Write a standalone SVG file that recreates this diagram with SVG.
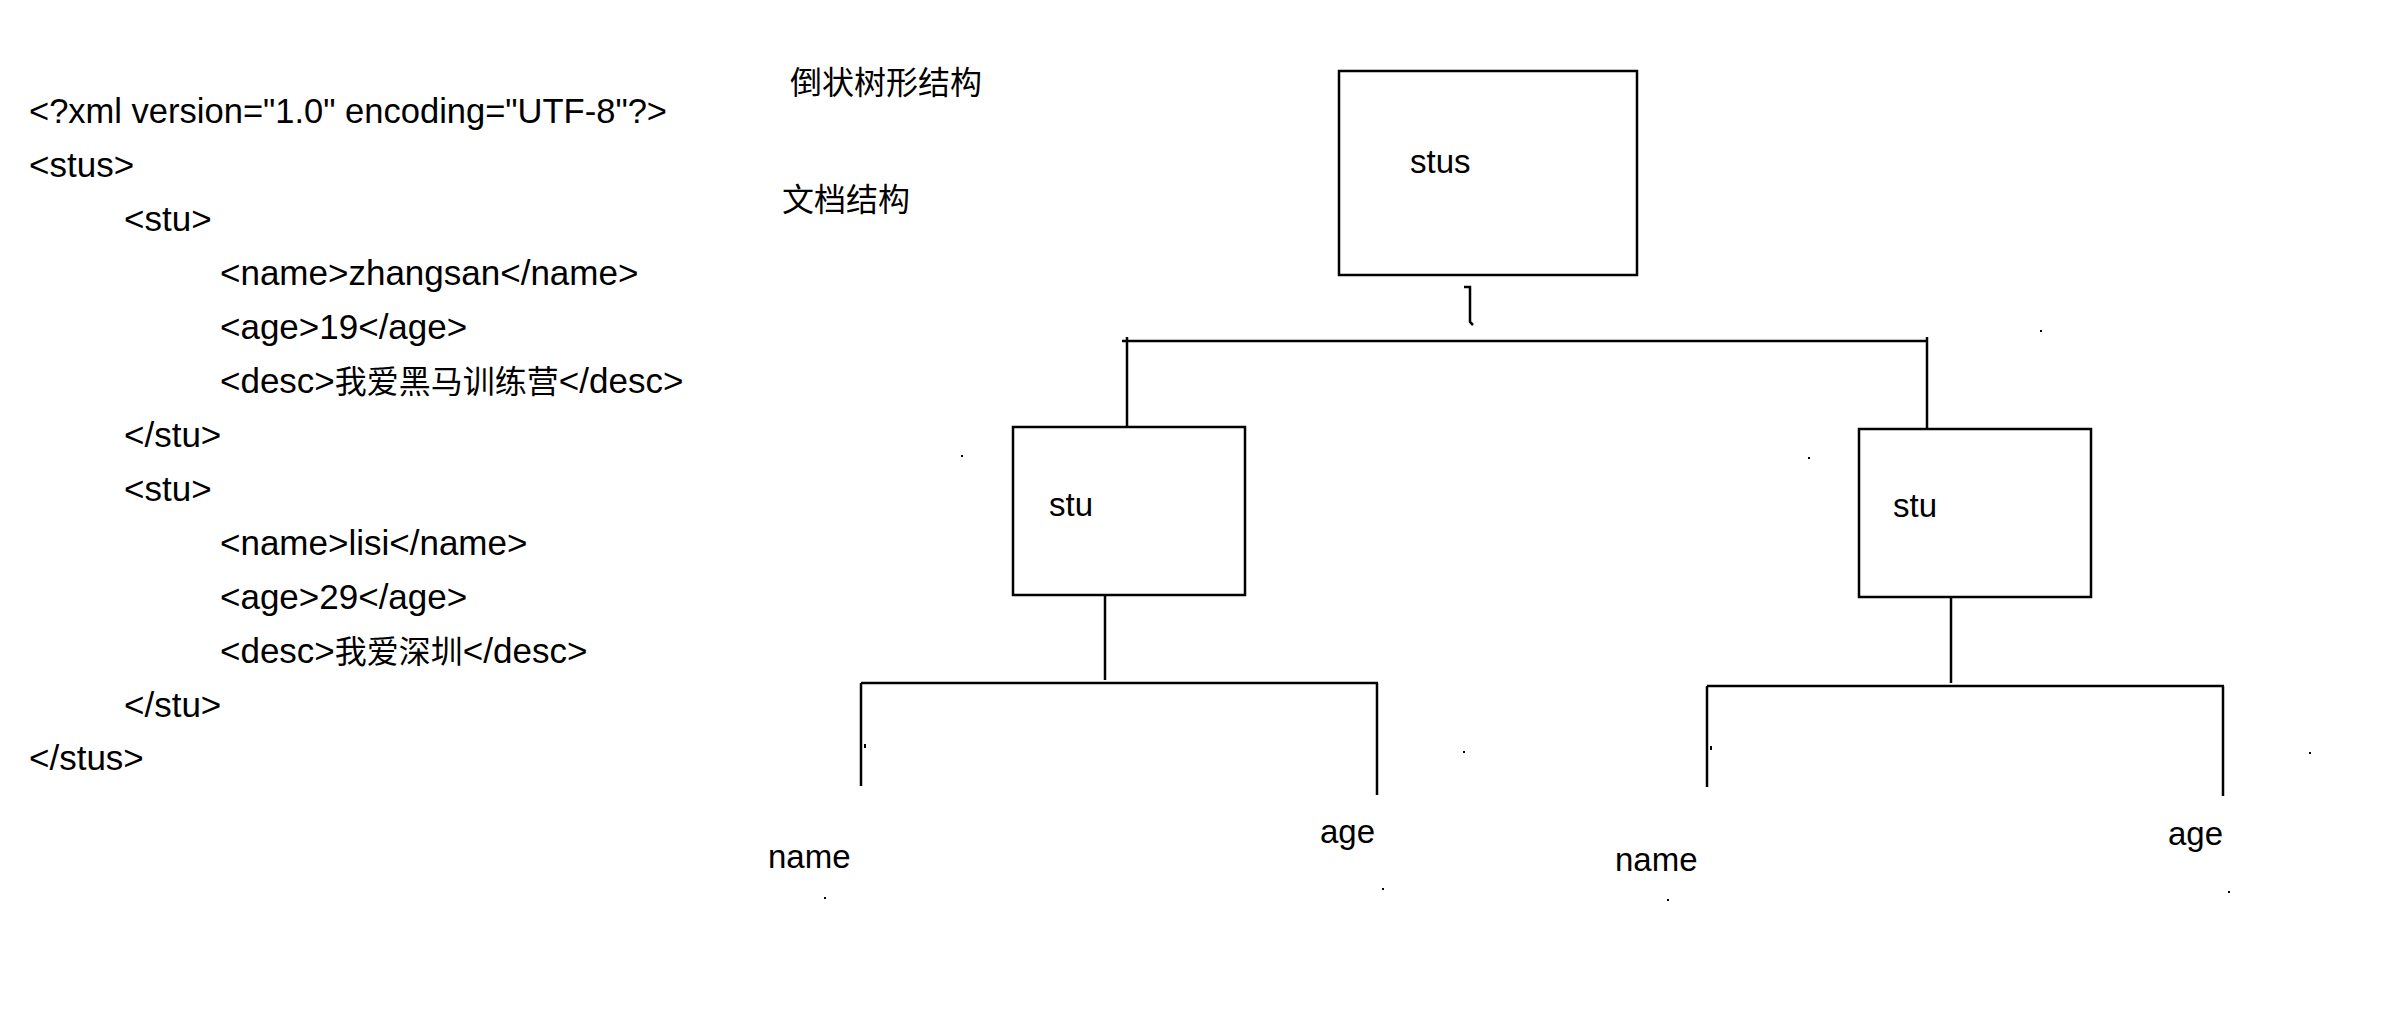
<svg xmlns="http://www.w3.org/2000/svg" width="2396" height="1014" viewBox="0 0 2396 1014">
<style>
  .code { font-family: "Liberation Sans", "Noto Sans CJK SC", sans-serif; font-size: 35px; fill: #000; }
  .zh { font-family: "Noto Sans CJK SC", sans-serif; font-size: 32px; }
  .lbl { font-family: "Liberation Sans", "Noto Sans CJK SC", sans-serif; font-size: 33px; fill: #000; }
  .cjk { font-family: "Noto Sans CJK SC", sans-serif; font-size: 32px; fill: #000; }
  .box { fill: #fff; stroke: #000; stroke-width: 2.5; }
  .ln { stroke: #000; stroke-width: 2.5; fill: none; }
  .dot { fill: #000; }
</style>
<rect width="2396" height="1014" fill="#fff"/>

<g id="code">
  <text class="code" x="29" y="123" textLength="638" lengthAdjust="spacingAndGlyphs">&lt;?xml version="1.0" encoding="UTF-8"?&gt;</text>
  <text class="code" x="29" y="177">&lt;stus&gt;</text>
  <text class="code" x="124" y="231">&lt;stu&gt;</text>
  <text class="code" x="220" y="285">&lt;name&gt;zhangsan&lt;/name&gt;</text>
  <text class="code" x="220" y="339">&lt;age&gt;19&lt;/age&gt;</text>
  <text class="code" x="220" y="393">&lt;desc&gt;<tspan class="zh">我爱黑马训练营</tspan>&lt;/desc&gt;</text>
  <text class="code" x="124" y="447">&lt;/stu&gt;</text>
  <text class="code" x="124" y="501">&lt;stu&gt;</text>
  <text class="code" x="220" y="555">&lt;name&gt;lisi&lt;/name&gt;</text>
  <text class="code" x="220" y="609">&lt;age&gt;29&lt;/age&gt;</text>
  <text class="code" x="220" y="663">&lt;desc&gt;<tspan class="zh">我爱深圳</tspan>&lt;/desc&gt;</text>
  <text class="code" x="124" y="717">&lt;/stu&gt;</text>
  <text class="code" x="29" y="770">&lt;/stus&gt;</text>
</g>

<g id="titles">
  <text class="cjk" x="790" y="94">倒状树形结构</text>
  <text class="cjk" x="782" y="211">文档结构</text>
</g>

<g id="connectors">
  <path class="ln" d="M1464,287 H1470 V322 L1473,325"/>
  <path class="ln" d="M1122,341 H1927"/>
  <path class="ln" d="M1127,337 V432"/>
  <path class="ln" d="M1927,337 V432"/>
  <path class="ln" d="M1105,594 V680"/>
  <path class="ln" d="M861,683 H1378"/>
  <path class="ln" d="M861,683 V786"/>
  <path class="ln" d="M1377,683 V795"/>
  <path class="ln" d="M1951,595 V683"/>
  <path class="ln" d="M1707,686 H2224"/>
  <path class="ln" d="M1707,686 V787"/>
  <path class="ln" d="M2223,686 V796"/>
</g>

<g id="node-stus">
  <rect class="box" x="1339" y="71" width="298" height="204"/>
  <text class="lbl" x="1410" y="173">stus</text>
</g>
<g id="node-stu-1">
  <rect class="box" x="1013" y="427" width="232" height="168"/>
  <text class="lbl" x="1049" y="516">stu</text>
</g>
<g id="node-stu-2">
  <rect class="box" x="1859" y="429" width="232" height="168"/>
  <text class="lbl" x="1893" y="517">stu</text>
</g>
<g id="node-name-1">
  <text class="lbl" x="768" y="868">name</text>
</g>
<g id="node-age-1">
  <text class="lbl" x="1320" y="843">age</text>
</g>
<g id="node-name-2">
  <text class="lbl" x="1615" y="871">name</text>
</g>
<g id="node-age-2">
  <text class="lbl" x="2168" y="845">age</text>
</g>

<g id="marks">
  <rect class="dot" x="961" y="455" width="2" height="2"/>
  <rect class="dot" x="1808" y="457" width="2" height="2"/>
  <rect class="dot" x="2040" y="330" width="2" height="2"/>
  <rect class="dot" x="864" y="744" width="2" height="4"/>
  <rect class="dot" x="1463" y="751" width="2" height="2"/>
  <rect class="dot" x="1710" y="746" width="2" height="4"/>
  <rect class="dot" x="2309" y="752" width="2" height="2"/>
  <rect class="dot" x="824" y="897" width="2" height="2"/>
  <rect class="dot" x="1382" y="888" width="2" height="2"/>
  <rect class="dot" x="1667" y="899" width="2" height="2"/>
  <rect class="dot" x="2228" y="891" width="2" height="2"/>
</g>
</svg>
